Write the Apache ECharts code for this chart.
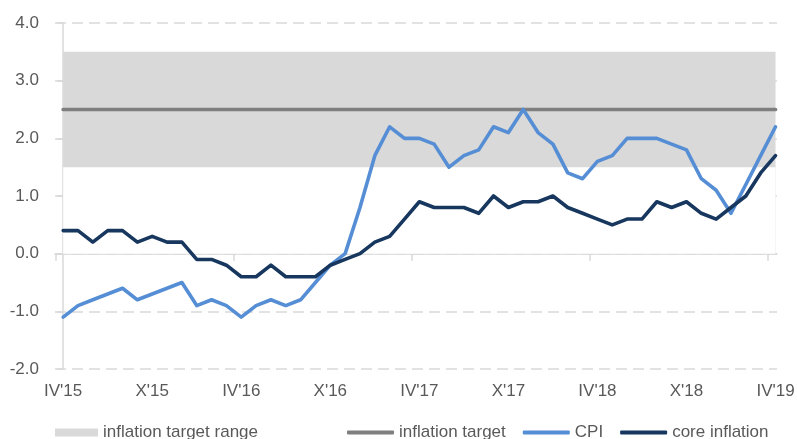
<!DOCTYPE html>
<html>
<head>
<meta charset="utf-8">
<script src="https://cdn.jsdelivr.net/npm/echarts@6/dist/echarts.min.js"></script>
<style>html,body{margin:0;padding:0;background:#fff}#c{width:797px;height:439px}</style>
</head>
<body>
<div id="c"></div>
<script>
// Monthly observations, IV'15 .. IV'19 (49 months)
const tickLabels = ["IV'15", "X'15", "IV'16", "X'16", "IV'17", "X'17", "IV'18", "X'18", "IV'19"];
const tickIndex = [0, 6, 12, 18, 24, 30, 36, 42, 48];
const cpi = [-1.1, -0.9, -0.8, -0.7, -0.6, -0.8, -0.7, -0.6, -0.5, -0.9, -0.8, -0.9,
             -1.1, -0.9, -0.8, -0.9, -0.8, -0.5, -0.2, 0.0, 0.8, 1.7, 2.2, 2.0,
             2.0, 1.9, 1.5, 1.7, 1.8, 2.2, 2.1, 2.5, 2.1, 1.9, 1.4, 1.3,
             1.6, 1.7, 2.0, 2.0, 2.0, 1.9, 1.8, 1.3, 1.1, 0.7, 1.2, 1.7, 2.2];
const core = [0.4, 0.4, 0.2, 0.4, 0.4, 0.2, 0.3, 0.2, 0.2, -0.1, -0.1, -0.2,
              -0.4, -0.4, -0.2, -0.4, -0.4, -0.4, -0.2, -0.1, 0.0, 0.2, 0.3, 0.6,
              0.9, 0.8, 0.8, 0.8, 0.7, 1.0, 0.8, 0.9, 0.9, 1.0, 0.8, 0.7,
              0.6, 0.5, 0.6, 0.6, 0.9, 0.8, 0.9, 0.7, 0.6, 0.8, 1.0, 1.4, 1.7];
const inflationTarget = 2.5;
const targetRangeLow = 1.5;
const targetRangeHigh = 3.5;

const idx = cpi.map((_, i) => i);
const cpiData = cpi.map((v, i) => [i, v]);
const coreData = core.map((v, i) => [i, v]);
const targetData = idx.map(i => [i, inflationTarget]);
const bandLow = idx.map(i => [i, targetRangeLow]);
const bandHigh = idx.map(i => [i, targetRangeHigh]);

const FONT = 'Liberation Sans';
const FS = 17;
const chart = echarts.init(document.getElementById('c'), null, {renderer: 'canvas'});
chart.setOption({
  animation: false,
  backgroundColor: '#ffffff',
  textStyle: {fontFamily: FONT},
  grid: {left: 55, right: 20, top: 23, bottom: 70, containLabel: false, outerBoundsMode: 'none'},
  xAxis: [
    {
      type: 'value', min: -0.55, max: 48.1,
      axisLine: {show: false, onZero: false},
      axisTick: {show: false},
      splitLine: {show: false},
      axisLabel: {
        customValues: tickIndex,
        formatter: v => tickLabels[tickIndex.indexOf(Math.round(v))] || '',
        color: '#595959', fontSize: FS, margin: 14, fontFamily: FONT
      }
    },
    {
      type: 'value', min: -0.55, max: 48.1, position: 'bottom',
      axisLine: {show: true, onZero: true, lineStyle: {color: '#d9d9d9', width: 1.5}},
      axisTick: {show: true, customValues: [-0.52, 11.48, 23.48, 35.48, 47.48], length: 7,
                 lineStyle: {color: '#d9d9d9', width: 1.5}},
      axisLabel: {show: false},
      splitLine: {show: false}
    }
  ],
  yAxis: {
    type: 'value', min: -2, max: 4, interval: 1,
    axisLine: {show: true, lineStyle: {color: '#d9d9d9', width: 1.5}},
    axisTick: {show: true, length: 6, lineStyle: {color: '#d9d9d9', width: 1.5}},
    axisLabel: {formatter: v => v.toFixed(1), color: '#595959', fontSize: FS, margin: 16, fontFamily: FONT},
    splitLine: {show: true, lineStyle: {color: '#d9d9d9', width: 1.5, type: [11, 6]}}
  },
  legend: [
    {
      left: 55, top: 424, padding: 0, itemWidth: 43, itemHeight: 8, itemGap: 10,
      textStyle: {color: '#595959', fontSize: FS, fontFamily: FONT},
      data: [{name: 'inflation target range', icon: 'rect', itemStyle: {color: '#d9d9d9'}}]
    },
    {
      left: 347, top: 424, padding: 0, itemWidth: 47, itemHeight: 4, itemGap: 17,
      textStyle: {color: '#595959', fontSize: FS, fontFamily: FONT},
      data: [
        {name: 'inflation target', icon: 'roundRect'},
        {name: 'CPI', icon: 'roundRect'},
        {name: 'core inflation', icon: 'roundRect'}
      ]
    }
  ],
  series: [
    {
      name: 'inflation target range', type: 'line', data: bandHigh, symbol: 'none',
      itemStyle: {color: '#d9d9d9'},
      lineStyle: {width: 0, opacity: 0}, areaStyle: {color: '#d9d9d9', opacity: 1}, silent: true, z: 1
    },
    {
      name: 'band lower edge', type: 'line', data: bandLow, symbol: 'none',
      lineStyle: {width: 0, opacity: 0}, areaStyle: {color: '#ffffff', opacity: 1}, silent: true, z: 2
    },
    {
      name: 'inflation target', type: 'line', data: targetData, symbol: 'none',
      itemStyle: {color: '#7f7f7f'},
      lineStyle: {color: '#7f7f7f', width: 3.7, cap: 'round'}, z: 3
    },
    {
      name: 'CPI', type: 'line', data: cpiData, symbol: 'none',
      itemStyle: {color: '#558ed5'},
      lineStyle: {color: '#558ed5', width: 3.6, join: 'round', cap: 'round'}, z: 4
    },
    {
      name: 'core inflation', type: 'line', data: coreData, symbol: 'none',
      itemStyle: {color: '#17375e'},
      lineStyle: {color: '#17375e', width: 3.6, join: 'round', cap: 'round'}, z: 5
    }
  ]
});
</script>
</body>
</html>
